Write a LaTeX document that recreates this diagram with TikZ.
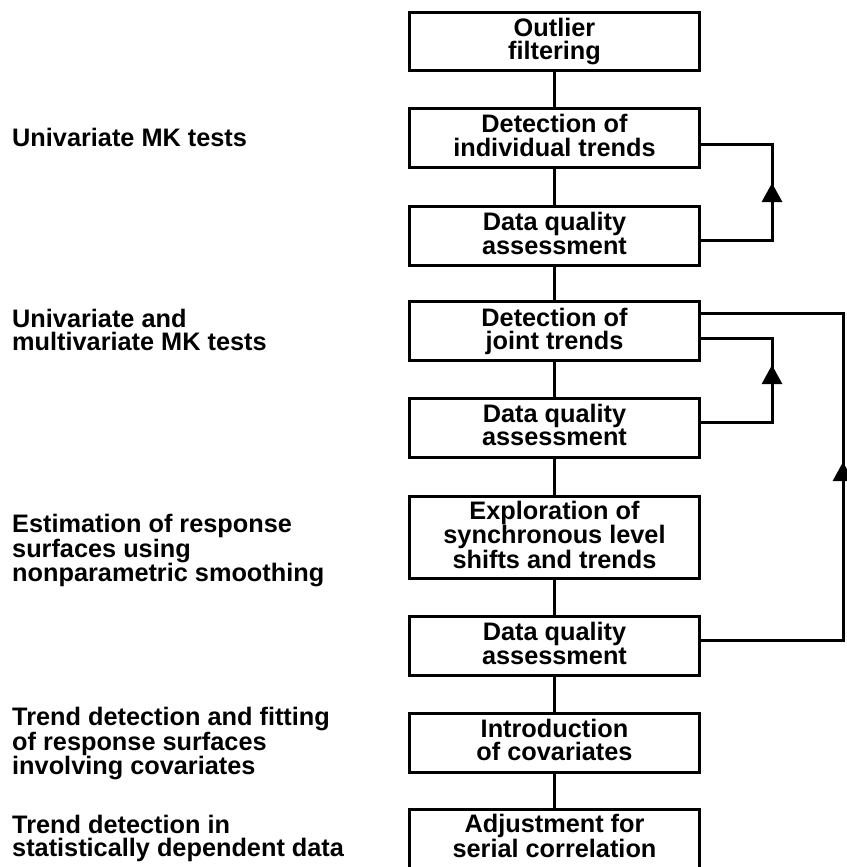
\documentclass[tikz,border=0pt]{standalone}
\usepackage{fontspec}
\setmainfont{Liberation Sans}
\usetikzlibrary{arrows.meta,decorations.markings}
\begin{document}
\begin{tikzpicture}[x=1pt,y=-1pt,
  every node/.style={font=\fontsize{25.3}{23.3}\selectfont\bfseries},
  stepbox/.style={draw,line width=3pt,minimum width=290pt,align=center,inner sep=0pt,execute at end node={\vphantom{g}}},
  lbl/.style={anchor=north west,align=left,inner sep=0pt},
  conn/.style={line width=3pt},
  fb/.style={line width=3pt,postaction={decorate},
    decoration={markings,mark=at position #1 with {\arrow{Triangle[length=19pt,width=20pt]}}}}
]
\useasboundingbox (0,0) rectangle (846,867);
% boxes
\node[stepbox,minimum height=58.6pt] (b1) at (554.5,41.5) {Outlier\\filtering};
\node[stepbox,minimum height=59pt] (b2) at (554.5,138) {Detection of\\individual trends};
\node[stepbox,minimum height=59pt] (b3) at (554.5,236) {Data quality\\assessment};
\node[stepbox,minimum height=59pt] (b4) at (554.5,331.2) {Detection of\\joint trends};
\node[stepbox,minimum height=59pt] (b5) at (554.5,427.5) {Data quality\\assessment};
\node[stepbox,minimum height=82pt] (b6) at (554.5,537.5) {Exploration of\\synchronous level\\shifts and trends};
\node[stepbox,minimum height=59pt] (b7) at (554.5,646) {Data quality\\assessment};
\node[stepbox,minimum height=59pt] (b8) at (554.5,742.5) {Introduction\\of covariates};
\node[stepbox,minimum height=66pt,execute at end node={\rule[-13pt]{0pt}{1pt}}] (b9) at (554.5,842.5) {Adjustment for\\serial correlation};
% labels
\node[lbl] (l1) at (12,127.6) {Univariate MK tests};
\node[lbl] (l2) at (12,308.9) {Univariate and\\multivariate MK tests};
\node[lbl] (l3) at (12,513.9) {Estimation of response\\surfaces using\\nonparametric smoothing};
\node[lbl] (l4) at (12,706.9) {Trend detection and fitting\\of response surfaces\\involving covariates};
\node[lbl] (l5) at (12,814.9) {Trend detection in\\statistically dependent data};
% main chain
\draw[conn] (b1) -- (b2);
\draw[conn] (b2) -- (b3);
\draw[conn] (b3) -- (b4);
\draw[conn] (b4) -- (b5);
\draw[conn] (b5) -- (b6);
\draw[conn] (b6) -- (b7);
\draw[conn] (b7) -- (b8);
\draw[conn] (b8) -- (b9);
% feedback loops
\draw[fb=128pt] ([yshift=-4pt]b3.east) -- ++(71,0) |- ([yshift=-6pt]b2.east);
\draw[fb=128pt] ([yshift=5.5pt]b5.east) -- ++(71,0) |- ([yshift=-7pt]b4.east);
\draw[fb=320pt] ([yshift=6pt]b7.east) -- ++(142,0) |- ([yshift=18pt]b4.east);
\end{tikzpicture}
\end{document}
